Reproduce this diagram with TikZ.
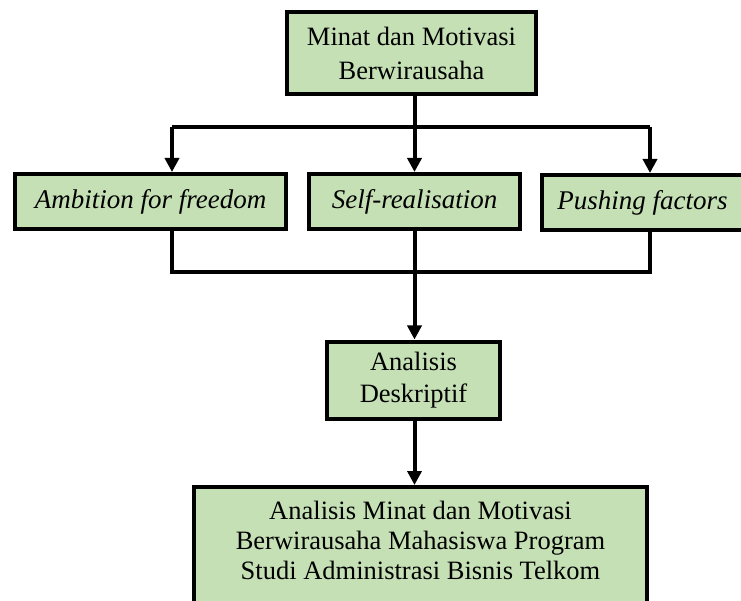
\documentclass[tikz,border=0pt]{standalone}
\usepackage{fontspec}
\setmainfont{Liberation Serif}
\usetikzlibrary{arrows.meta}
\definecolor{boxgreen}{RGB}{197,224,180}
\begin{document}
\begin{tikzpicture}[x=1pt,y=-1pt,
  box/.style={draw=black, line width=4pt, fill=boxgreen, align=center,
    font=\fontsize{26.5}{34}\selectfont, inner sep=0pt},
  itbox/.style={box, font=\fontsize{27}{32}\selectfont\itshape},
  conn/.style={line width=4pt},
  arr/.style={line width=4pt, -{Triangle[length=14pt,width=14pt]}}]
\useasboundingbox (0,0) rectangle (741,601);

\node[box, minimum width=249pt, minimum height=82pt] (top) at (411.5,53) {Minat dan Motivasi\\Berwirausaha};
\node[itbox, minimum width=271pt, minimum height=55pt] (amb) at (150.5,201.5) {Ambition for freedom};
\node[itbox, minimum width=211pt, minimum height=55pt] (self) at (414.5,201.5) {Self-realisation};
\node[itbox, minimum width=201pt, minimum height=55pt] (push) at (642.5,202.5) {Pushing factors};
\node[box, minimum width=173pt, minimum height=77pt, font=\fontsize{26.5}{32.5}\selectfont] (ana) at (413.5,380) {Analisis\\Deskriptif};
\node[box, anchor=north] (bot) at (420.5,485) {\parbox[c][130pt][t]{453pt}{\fontsize{26.5}{30}\selectfont\centering\vspace*{14pt}Analisis Minat dan Motivasi\\ Berwirausaha Mahasiswa Program\\ Studi Administrasi Bisnis Telkom}};

\coordinate (jl) at (172,127);
\coordinate (jr) at (650,127);
\coordinate (bl) at (172,272);
\coordinate (br) at (650,272);

\draw[arr] (top.south -| self.north) -- (self.north);
\draw[conn] (jl) -- (jr);
\draw[arr] (jl) -- (jl |- amb.north);
\draw[arr] (jr) -- (jr |- push.north);
\draw[conn] (amb.south -| bl) -- (bl) -- (br) -- (push.south -| br);
\draw[arr] (self.south) -- (ana.north -| self.south);
\draw[arr] (ana.south -| self.south) -- (bot.north -| self.south);
\end{tikzpicture}
\end{document}
